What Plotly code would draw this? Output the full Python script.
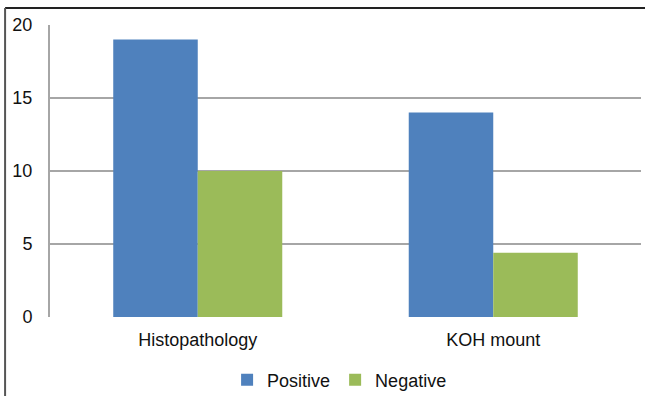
import plotly.graph_objects as go

# Diagnostic results by method
categories = ["Histopathology", "KOH mount"]
positive = [19, 14]
negative = [10, 4.4]
y_ticks = [0, 5, 10, 15, 20]

BLUE = "#4f81bd"
GREEN = "#9bbb59"
GRID = "#a6a6a6"
FONT = "Liberation Sans, Arial, sans-serif"

fig = go.Figure()
fig.add_trace(go.Bar(name="Positive", x=categories, y=positive,
                     marker=dict(color=BLUE, line=dict(width=0))))
fig.add_trace(go.Bar(name="Negative", x=categories, y=negative,
                     marker=dict(color=GREEN, line=dict(width=0))))

fig.update_layout(
    width=645, height=396,
    barmode="group", bargap=0.428, bargroupgap=0,
    plot_bgcolor="white", paper_bgcolor="white",
    margin=dict(l=50, r=4, t=25, b=79, autoexpand=False),
    font=dict(family=FONT, size=18, color="#111111"),
    legend=dict(orientation="h", x=0.49, xanchor="center",
                yref="container", y=0.04, yanchor="middle",
                font=dict(size=18), itemwidth=30, traceorder="normal",
                itemclick=False, tracegroupgap=0),
    showlegend=True,
)
fig.update_yaxes(range=[0, 20], tickvals=y_ticks, showgrid=True, gridcolor=GRID,
                 gridwidth=2, zeroline=False, showline=True, linecolor=GRID,
                 linewidth=2, ticks="", ticklabelstandoff=12, fixedrange=True,
                 tickfont=dict(size=18))
fig.update_xaxes(showgrid=False, showline=False, ticks="", ticklabelstandoff=10,
                 fixedrange=True, tickfont=dict(size=18))

# Outer frame: top and left edges
fig.add_shape(type="line", xref="paper", yref="paper",
              x0=-0.076, x1=1.01, y0=1.058, y1=1.058,
              line=dict(color="#222222", width=2))
fig.add_shape(type="line", xref="paper", yref="paper",
              x0=-0.076, x1=-0.076, y0=1.058, y1=-0.4,
              line=dict(color="#555555", width=2))

fig.write_html("out.html")
